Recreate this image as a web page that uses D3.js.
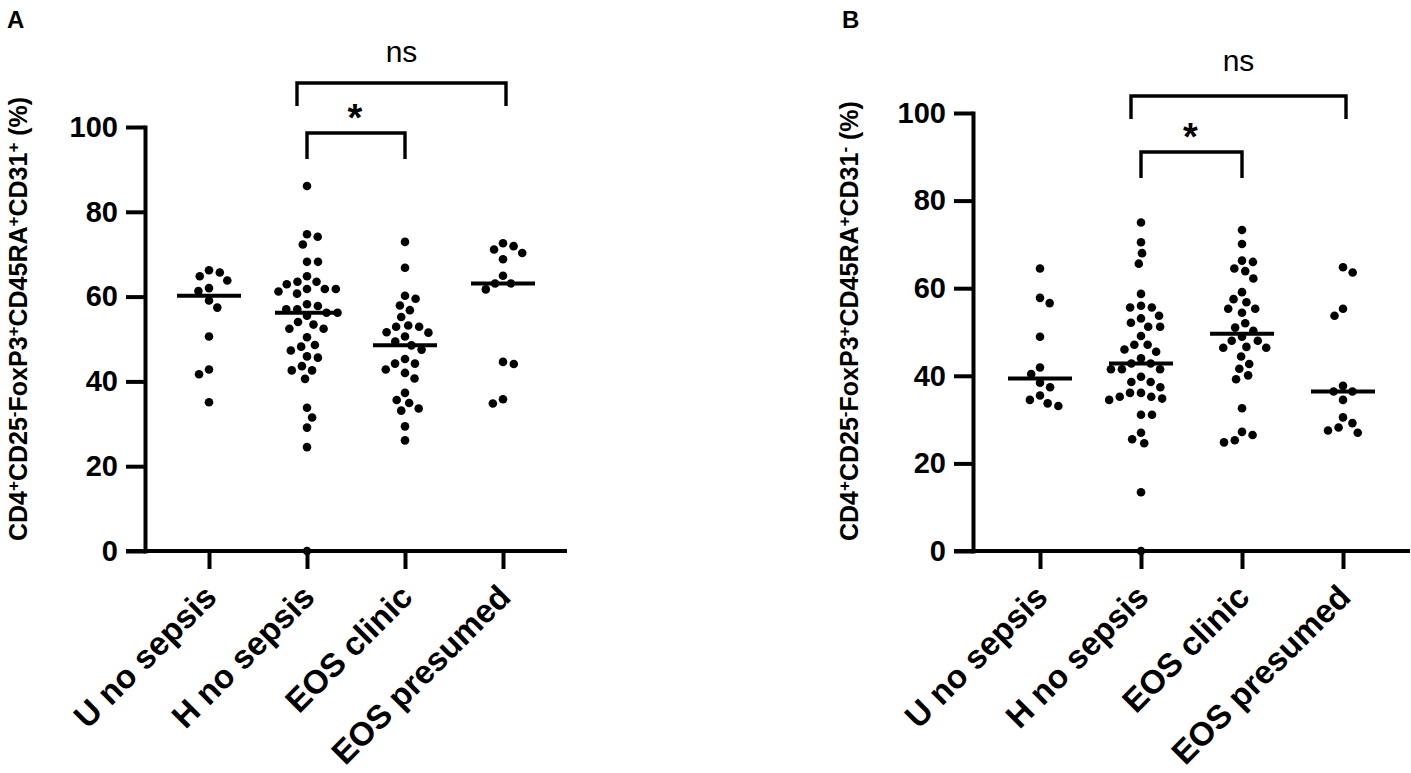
<!DOCTYPE html>
<html>
<head>
<meta charset="utf-8">
<script src="https://cdn.jsdelivr.net/npm/d3@7"></script>
<style>
  body { margin: 0; background: #fff; }
  text { font-family: "Liberation Sans", Arial, Helvetica, sans-serif; fill: #000; }
</style>
</head>
<body>
<svg id="chart" width="1411" height="773"></svg>
<script>
const groups = ["U no sepsis", "H no sepsis", "EOS clinic", "EOS presumed"]
const yTicks = [0, 20, 40, 60, 80, 100]

// panel A : CD4+CD25-FoxP3+CD45RA+CD31+ (%)
const uNoSepsisA = [66.2, 65.7, 64.8, 63.8, 62.0, 61.3, 59.1, 57.4, 50.6, 42.8, 41.7, 35.1]
const hNoSepsisA = [86.1, 74.7, 74.1, 72.3, 68.2, 68.2, 64.8, 63.5, 63.5, 62.9, 61.8, 61.8, 61.8, 61.2,
  60.7, 58.2, 57.8, 57.0, 57.0, 56.2, 56.2, 55.5, 54.0, 53.4, 52.4, 52.4, 50.4, 48.6, 48.2, 47.3,
  45.9, 45.6, 43.6, 42.6, 42.6, 40.6, 33.8, 31.5, 29.1, 24.5, 0.0]
const eosClinicA = [72.9, 66.8, 60.2, 59.5, 57.9, 56.8, 55.2, 53.2, 52.9, 52.9, 51.6, 51.5, 50.6, 49.4,
  48.5, 47.5, 45.3, 44.2, 44.2, 42.8, 42.0, 40.7, 37.3, 35.6, 34.9, 33.6, 33.1, 29.4, 26.1]
const eosPresumedA = [72.6, 71.9, 71.1, 70.3, 68.8, 64.9, 63.1, 63.1, 61.7, 44.6, 44.1, 35.8, 34.8]

// panel B : CD4+CD25-FoxP3+CD45RA+CD31- (%)
const uNoSepsisB = [64.5, 57.8, 56.6, 48.9, 41.9, 40.4, 38.4, 37.4, 35.5, 34.5, 33.7, 33.1]
const hNoSepsisB = [75.0, 70.5, 68.0, 65.6, 58.7, 56.0, 55.6, 55.6, 53.7, 53.1, 52.1, 51.2, 51.2, 49.1,
  47.1, 47.1, 46.0, 45.5, 44.0, 42.8, 42.8, 41.5, 41.5, 41.5, 39.8, 38.6, 38.6, 37.4, 36.1, 36.1,
  35.2, 35.2, 34.8, 34.5, 31.1, 31.1, 27.0, 25.5, 24.6, 13.4, 0.0]
const eosClinicB = [73.3, 70.1, 66.3, 66.0, 64.5, 63.9, 62.2, 59.1, 57.5, 56.8, 55.3, 55.3, 54.4, 52.0,
  51.0, 50.3, 48.9, 48.0, 48.0, 46.6, 46.4, 46.4, 44.4, 42.7, 41.6, 40.1, 39.2, 32.6, 27.2, 26.5,
  25.3, 24.8]
const eosPresumedB = [64.8, 63.6, 55.3, 53.7, 37.7, 36.4, 36.4, 34.5, 30.5, 29.2, 28.2, 27.5, 27.0]

const titleA = [["CD4", "+"], ["CD25", "-"], ["FoxP3", "+"], ["CD45RA", "+"], ["CD31", "+"], [" (%)", ""]]
const titleB = [["CD4", "+"], ["CD25", "-"], ["FoxP3", "+"], ["CD45RA", "+"], ["CD31", "-"], [" (%)", ""]]

const comparisons = [
  {from: "H no sepsis", to: "EOS presumed", label: "ns"},
  {from: "H no sepsis", to: "EOS clinic", label: "*"}
]

const panels = [
  {letter: "A", letterX: 7, series: [uNoSepsisA, hNoSepsisA, eosClinicA, eosPresumedA], title: titleA,
   axisX: 145, x0: 209, x1: 503, yTop: 127, yBot: 551, titleX: 27, bracketY: [83, 133], nsY: 62},
  {letter: "B", letterX: 842, series: [uNoSepsisB, hNoSepsisB, eosClinicB, eosPresumedB], title: titleB,
   axisX: 973, x0: 1040, x1: 1343, yTop: 113, yBot: 551, titleX: 858, bracketY: [96, 152], nsY: 71}
]

const svg = d3.select("#chart")
const tickLen = 19

// simple beeswarm: place each dot at the free x nearest to the group centre
function swarm(vals, y, d) {
  const pts = vals.map(v => ({v: v, y: y(v), x: 0})).sort((a, b) => a.y - b.y)
  const placed = []
  let side = 1
  pts.forEach(p => {
    const near = placed.filter(q => Math.abs(q.y - p.y) < d)
    let cand = [0]
    near.forEach(q => {
      const dx = Math.sqrt(d * d - (q.y - p.y) ** 2)
      cand.push(q.x - dx, q.x + dx)
    })
    cand = cand.filter(c => near.every(q => (c - q.x) ** 2 + (p.y - q.y) ** 2 >= d * d - 0.01))
    cand.sort((a, b) => {
      const da = Math.abs(a) - Math.abs(b)
      if (Math.abs(da) > 0.5) return da
      return side * (b - a)
    })
    p.x = cand[0]
    if (Math.abs(p.x) > 0.5) side = -Math.sign(p.x)
    placed.push(p)
  })
  return pts
}

function drawPanel(cfg) {
  const g = svg.append("g")

  const x = d3.scalePoint().domain(groups).range([cfg.x0, cfg.x1])
  const y = d3.scaleLinear().domain([0, 100]).range([cfg.yBot, cfg.yTop])

  // panel letter
  g.append("text")
    .attr("x", cfg.letterX).attr("y", 28)
    .style("font-size", "24px").style("font-weight", "bold")
    .text(cfg.letter)

  // y axis
  const yAxis = g.append("g")
    .attr("transform", `translate(${cfg.axisX},0)`)
    .call(d3.axisLeft(y).tickValues(yTicks).tickSize(tickLen).tickSizeOuter(0).tickPadding(8))
  yAxis.select(".domain").attr("stroke-width", 4).attr("stroke-linecap", "square")
  yAxis.selectAll(".tick line").attr("stroke-width", 4)
  yAxis.selectAll(".tick text")
    .attr("font-family", null).attr("font-size", null)
    .style("font-size", "29px").style("font-weight", "bold")

  // x axis
  const xAxis = g.append("g")
    .attr("transform", `translate(0,${cfg.yBot})`)
    .call(d3.axisBottom(x).tickSize(18).tickSizeOuter(0))
  xAxis.select(".domain").remove()
  xAxis.selectAll(".tick line").attr("stroke-width", 4)
  xAxis.selectAll(".tick text")
    .attr("x", 0).attr("y", 0).attr("dy", 0)
    .attr("text-anchor", "end")
    .attr("transform", "translate(9,48) rotate(-45)")
    .style("font-size", "33px").style("font-weight", "bold")

  g.append("line")
    .attr("x1", cfg.axisX - tickLen).attr("x2", cfg.x1 + (cfg.x0 - cfg.axisX))
    .attr("y1", cfg.yBot).attr("y2", cfg.yBot)
    .attr("stroke", "#000").attr("stroke-width", 4)

  // y title with superscripts
  const title = g.append("text")
    .attr("transform", `translate(${cfg.titleX},541) rotate(-90)`)
    .style("font-size", "25px").style("font-weight", "bold")
  let back = 0
  cfg.title.forEach(part => {
    title.append("tspan").attr("dy", back).text(part[0])
    back = 0
    if (part[1]) {
      title.append("tspan").attr("dy", -8).style("font-size", "17px").text(part[1])
      back = 8
    }
  })

  // dots + medians
  groups.forEach((grp, i) => {
    const vals = cfg.series[i]
    const pts = swarm(vals, y, 11)
    g.append("g").selectAll("circle")
      .data(pts)
      .join("circle")
      .attr("cx", d => x(grp) + d.x)
      .attr("cy", d => d.y)
      .attr("r", 4.3)
      .attr("fill", "#000")

    const med = d3.median(vals)
    g.append("line")
      .attr("x1", x(grp) - 32).attr("x2", x(grp) + 32)
      .attr("y1", y(med)).attr("y2", y(med))
      .attr("stroke", "#000").attr("stroke-width", 4)
  })

  // significance brackets
  comparisons.forEach((c, k) => {
    const top = cfg.bracketY[k]
    const left = x(c.from) - (k === 0 ? 10 : 0)
    const right = x(c.to) + (k === 0 ? 3 : 0)
    const drop = k === 0 ? 23 : 26
    g.append("path")
      .attr("d", `M${left},${top + drop}V${top}H${right}V${top + drop}`)
      .attr("fill", "none").attr("stroke", "#000").attr("stroke-width", 3.4)
    const t = g.append("text")
      .attr("x", (left + right) / 2 + (k === 1 ? -1 : 0))
      .attr("text-anchor", "middle")
      .text(c.label)
    if (c.label === "ns") {
      t.attr("y", cfg.nsY).style("font-size", "30px")
    } else {
      t.attr("y", top - 2).style("font-size", "38px").style("font-weight", "bold")
    }
  })
}

panels.forEach(drawPanel)
</script>
</body>
</html>
